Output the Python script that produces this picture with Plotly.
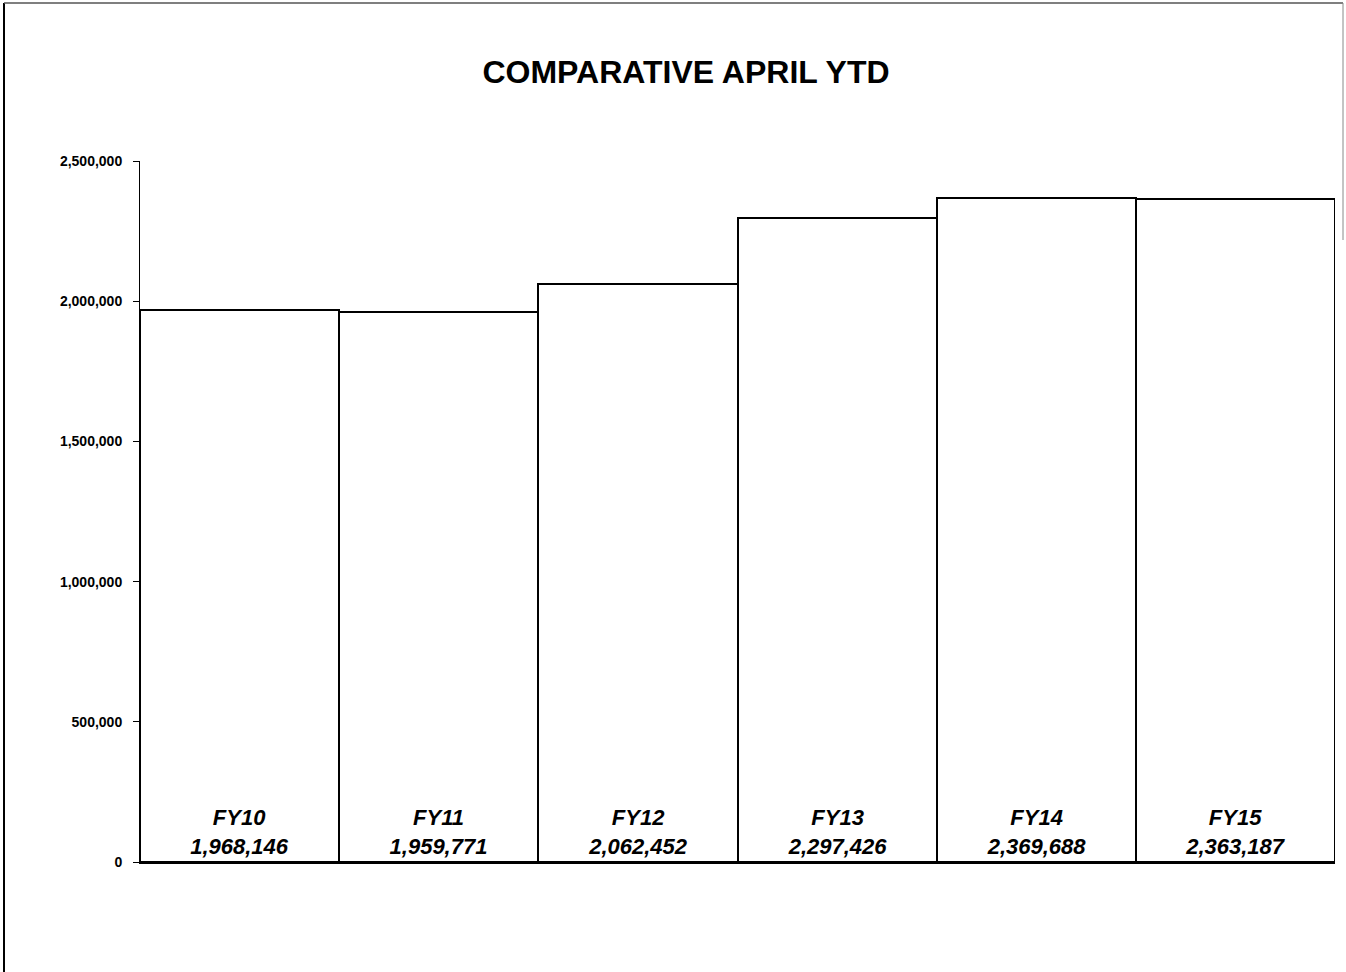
import plotly.graph_objects as go

categories = ["FY10", "FY11", "FY12", "FY13", "FY14", "FY15"]
values = [1968146, 1959771, 2062452, 2297426, 2369688, 2363187]
y_ticks = [0, 500000, 1000000, 1500000, 2000000, 2500000]
y_tick_labels = ["0", "500,000", "1,000,000", "1,500,000", "2,000,000", "2,500,000"]

labels = [f"<b><i>{c}</i></b><br><b><i>{v:,}</i></b>" for c, v in zip(categories, values)]

fig = go.Figure()
fig.add_trace(go.Bar(
    x=categories,
    y=values,
    marker=dict(color="white", line=dict(color="black", width=2)),
    text=labels,
    textposition="inside",
    insidetextanchor="start",
    textangle=0,
    textfont=dict(family="Liberation Sans, Arial", size=22, color="black"),
    hoverinfo="skip",
))

W, H = 1346, 972
L, R, T, B = 140, 11, 161, 110
pw, ph = W - L - R, H - T - B

def px(x):
    return (x - L) / pw

def py(y):
    return (H - B - y) / ph

fig.update_layout(
    width=W, height=H,
    margin=dict(l=L, r=R, t=T, b=B),
    paper_bgcolor="white", plot_bgcolor="white",
    bargap=0,
    showlegend=False,
    font=dict(family="Liberation Sans, Arial", color="black"),
    title=dict(text="<b>COMPARATIVE APRIL YTD</b>", x=686 / W, xanchor="center",
               y=1 - 72 / H, yanchor="middle",
               font=dict(size=32, family="Liberation Sans, Arial", color="black")),
    xaxis=dict(showticklabels=False, ticks="", showgrid=False, zeroline=False,
               showline=True, linecolor="black", linewidth=2),
    yaxis=dict(range=[0, 2500000], tickvals=y_ticks, ticktext=[f"<b>{t}</b>" for t in y_tick_labels],
               ticks="outside", ticklen=6, tickcolor="black", tickwidth=1,
               showgrid=False, zeroline=False, showline=True, linecolor="black", linewidth=1,
               tickfont=dict(size=14, family="Liberation Sans, Arial", color="black"),
               ticklabelstandoff=8),
    shapes=[
        dict(type="line", xref="paper", yref="paper", x0=px(4), x1=px(4), y0=py(3), y1=py(975),
             line=dict(color="black", width=2)),
        dict(type="line", xref="paper", yref="paper", x0=px(4), x1=px(1343), y0=py(3), y1=py(3),
             line=dict(color="#555555", width=1.5)),
        dict(type="line", xref="paper", yref="paper", x0=px(1343), x1=px(1343), y0=py(3), y1=py(240),
             line=dict(color="#888888", width=1)),
    ],
)

fig.write_html("out.html")
